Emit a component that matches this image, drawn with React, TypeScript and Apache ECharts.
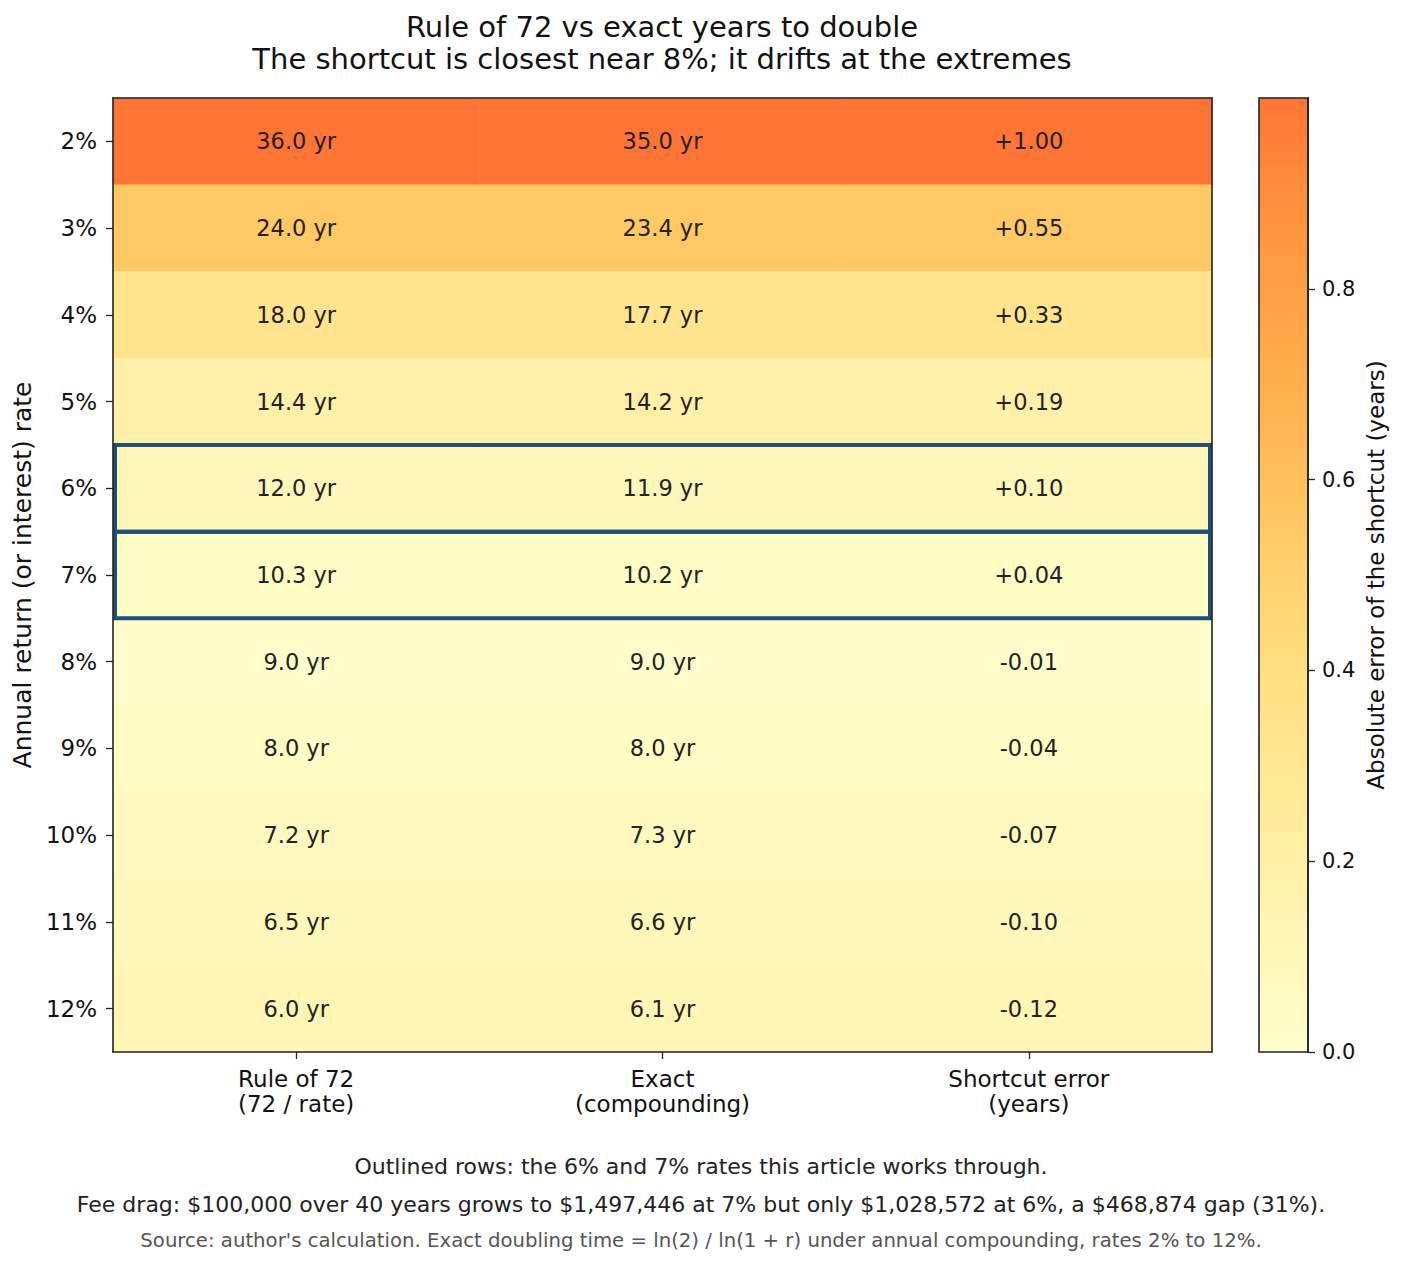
import React, { useEffect, useRef } from "react";
import * as echarts from "echarts";

const rates = ["2%", "3%", "4%", "5%", "6%", "7%", "8%", "9%", "10%", "11%", "12%"];
const columns = ["Rule of 72\n(72 / rate)", "Exact\n(compounding)", "Shortcut error\n(years)"];
const ruleOf72 = [36.0, 24.0, 18.0, 14.4, 12.0, 10.3, 9.0, 8.0, 7.2, 6.5, 6.0];
const exactYears = [35.0, 23.4, 17.7, 14.2, 11.9, 10.2, 9.0, 8.0, 7.3, 6.6, 6.1];
const shortcutError = [1.0, 0.55, 0.33, 0.19, 0.1, 0.04, -0.01, -0.04, -0.07, -0.1, -0.12];
const highlightedRates = ["6%", "7%"];
const colorbarTicks = [0, 0.2, 0.4, 0.6, 0.8];
const colorMax = 1.0;
// YlOrRd sampled over its lower 55%, at 0, 0.1, ..., 1.0 of the colour range
const scaleColors = [
  "#ffffcc", "#fff7b9", "#ffefa5", "#ffe793", "#fede80", "#fed16e",
  "#fec05b", "#feaf4b", "#fe9f44", "#fd8e3d", "#fd7435",
];

const FONT = "DejaVu Sans, sans-serif";

export default function App() {
  const ref = useRef<HTMLDivElement>(null);

  useEffect(() => {
    if (!ref.current) return;
    const chart = echarts.init(ref.current, null, { renderer: "svg" });

    const heatData: any[] = [];
    rates.forEach((r, ri) => {
      for (let c = 0; c < 3; c++) {
        heatData.push([c, ri, Math.abs(shortcutError[ri])]);
      }
    });

    const fmt = (p: any) => {
      const c = p.value[0];
      const r = p.value[1];
      if (c === 0) return ruleOf72[r].toFixed(1) + " yr";
      if (c === 1) return exactYears[r].toFixed(1) + " yr";
      const e = shortcutError[r];
      return (e >= 0 ? "+" : "-") + Math.abs(e).toFixed(2);
    };

    // ascending offsets: bottom of the bar (offset 1) is value 0
    const gradientStops = scaleColors
      .map((col, i) => ({ offset: 1 - i / (scaleColors.length - 1), color: col }))
      .reverse();

    const option: any = {
      animation: false,
      backgroundColor: "#ffffff",
      textStyle: { fontFamily: FONT },
      grid: [
        { left: 113, right: 190, top: 98, bottom: 214, containLabel: false },
        { left: 1259, right: 94, top: 98, bottom: 214, containLabel: false },
      ],
      xAxis: [
        {
          type: "category",
          gridIndex: 0,
          data: columns,
          position: "bottom",
          z: 10,
          axisLine: { show: true, lineStyle: { color: "#222", width: 1.6 } },
          axisTick: { show: true, alignWithLabel: true, length: 7, lineStyle: { color: "#222", width: 1.3 } },
          axisLabel: { color: "#111", fontSize: 23, lineHeight: 25, margin: 14, fontFamily: FONT },
          splitLine: { show: false },
        },
        {
          type: "category",
          gridIndex: 0,
          data: columns,
          position: "top",
          z: 10,
          axisLine: { show: true, lineStyle: { color: "#222", width: 1.6 } },
          axisTick: { show: false },
          axisLabel: { show: false },
        },
        {
          type: "value",
          gridIndex: 1,
          position: "bottom",
          min: 0,
          max: 1,
          axisLine: { show: false, onZero: false },
          axisTick: { show: false },
          axisLabel: { show: false },
          splitLine: { show: false },
        },
      ],
      yAxis: [
        {
          type: "category",
          gridIndex: 0,
          data: rates,
          inverse: true,
          z: 10,
          name: "Annual return (or interest) rate",
          nameLocation: "middle",
          nameRotate: 90,
          nameGap: 74,
          nameTextStyle: { color: "#111", fontSize: 25, fontFamily: FONT },
          axisLine: { show: true, lineStyle: { color: "#222", width: 1.6 } },
          axisTick: { show: true, alignWithLabel: true, length: 7, lineStyle: { color: "#222", width: 1.3 } },
          axisLabel: { color: "#111", fontSize: 23, margin: 16, fontFamily: FONT },
        },
        {
          type: "category",
          gridIndex: 0,
          data: rates,
          inverse: true,
          position: "right",
          z: 10,
          axisLine: { show: true, lineStyle: { color: "#222", width: 1.6 } },
          axisTick: { show: false },
          axisLabel: { show: false },
        },
        {
          type: "value",
          gridIndex: 1,
          position: "right",
          min: 0,
          max: colorMax,
          z: 10,
          name: "Absolute error of the shortcut (years)",
          nameLocation: "middle",
          nameRotate: 90,
          nameGap: 56,
          nameTextStyle: { color: "#111", fontSize: 23, fontFamily: FONT },
          axisLine: { show: true, onZero: false, lineStyle: { color: "#222", width: 1.6 } },
          axisTick: {
            show: true,
            inside: false,
            length: 7,
            customValues: colorbarTicks,
            lineStyle: { color: "#222", width: 1.3 },
          },
          axisLabel: {
            show: true,
            inside: false,
            customValues: colorbarTicks,
            color: "#111",
            fontSize: 21,
            margin: 14,
            fontFamily: FONT,
            formatter: (v: number) => v.toFixed(1),
          },
          splitLine: { show: false },
        },
      ],
      visualMap: {
        show: false,
        type: "continuous",
        min: 0,
        max: colorMax,
        dimension: 2,
        seriesIndex: 0,
        inRange: { color: scaleColors },
      },
      series: [
        {
          type: "heatmap",
          xAxisIndex: 0,
          yAxisIndex: 0,
          data: heatData,
          itemStyle: { borderWidth: 0 },
          label: {
            show: true,
            formatter: fmt,
            color: "#222",
            fontSize: 22.5,
            fontFamily: FONT,
          },
          emphasis: { disabled: true },
        },
        {
          type: "custom",
          xAxisIndex: 0,
          yAxisIndex: 0,
          z: 5,
          data: highlightedRates.map((r) => [0, rates.indexOf(r)]),
          renderItem: (params: any, api: any) => {
            const cs = params.coordSys;
            const center = api.coord([0, api.value(1)]);
            const size = api.size([1, 1]);
            const lw = 4;
            return {
              type: "rect",
              shape: {
                x: cs.x + lw / 2,
                y: center[1] - size[1] / 2,
                width: cs.width - lw,
                height: size[1],
              },
              style: { fill: "none", stroke: "#1f4e79", lineWidth: lw },
            };
          },
        },
      ],
      graphic: [
        {
          type: "rect",
          z: 1,
          shape: { x: 1259, y: 98, width: 49, height: 954 },
          style: {
            fill: { type: "linear", x: 0, y: 0, x2: 0, y2: 1, colorStops: gradientStops },
            stroke: "#222",
            lineWidth: 1.6,
          },
        },
        {
          type: "text",
          x: 662,
          y: 27,
          style: {
            text: "Rule of 72 vs exact years to double",
            fontSize: 29,
            fontFamily: FONT,
            fill: "#111",
            align: "center",
            verticalAlign: "middle",
          },
        },
        {
          type: "text",
          x: 662,
          y: 59,
          style: {
            text: "The shortcut is closest near 8%; it drifts at the extremes",
            fontSize: 29,
            fontFamily: FONT,
            fill: "#111",
            align: "center",
            verticalAlign: "middle",
          },
        },
        {
          type: "text",
          x: 701,
          y: 1166,
          style: {
            text: "Outlined rows: the 6% and 7% rates this article works through.",
            fontSize: 22,
            fontFamily: FONT,
            fill: "#222",
            align: "center",
            verticalAlign: "middle",
          },
        },
        {
          type: "text",
          x: 701,
          y: 1204,
          style: {
            text: "Fee drag: $100,000 over 40 years grows to $1,497,446 at 7% but only $1,028,572 at 6%, a $468,874 gap (31%).",
            fontSize: 22,
            fontFamily: FONT,
            fill: "#222",
            align: "center",
            verticalAlign: "middle",
          },
        },
        {
          type: "text",
          x: 701,
          y: 1240,
          style: {
            text: "Source: author's calculation. Exact doubling time = ln(2) / ln(1 + r) under annual compounding, rates 2% to 12%.",
            fontSize: 19.7,
            fontFamily: FONT,
            fill: "#555",
            align: "center",
            verticalAlign: "middle",
          },
        },
      ],
    };

    chart.setOption(option);
    return () => chart.dispose();
  }, []);

  return (
    <div
      ref={ref}
      style={{ position: "absolute", left: 0, top: 0, width: 1402, height: 1266 }}
    />
  );
}
